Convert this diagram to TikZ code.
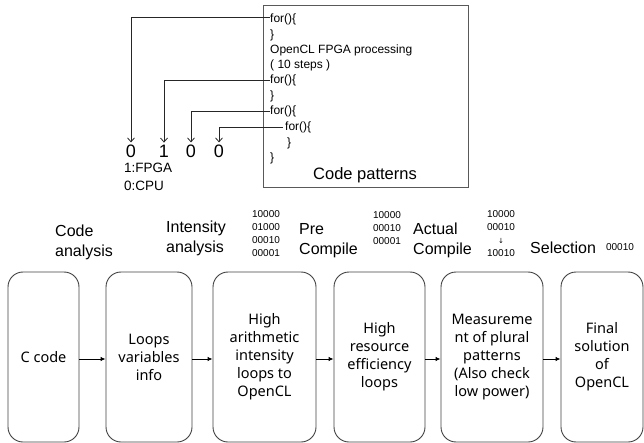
\documentclass[tikz,border=0pt]{standalone}
\usepackage{fontspec}
\setmainfont{Liberation Sans}
\newfontfamily\boxfont{Noto Sans}
\newfontfamily\symfont{DejaVu Sans}
\usetikzlibrary{arrows.meta}
\begin{document}
\begin{tikzpicture}[x=1pt,y=-1pt,
  flow/.style={draw=black!75, line width=0.9pt, rounded corners=15pt, inner sep=0pt,
    minimum height=170pt, align=center, font=\boxfont\fontsize{14.5}{18}\selectfont},
  conn/.style={draw=black, line width=0.9pt, -{Latex[length=5pt,width=4.5pt]}},
  ptr/.style={draw=black!85, line width=0.8pt, -{Straight Barb[length=4pt,width=7pt]}},
  code/.style={anchor=west, inner sep=0pt, font=\fontsize{12}{14}\selectfont},
  lbl/.style={anchor=west, inner sep=0pt, align=left, font=\fontsize{16}{20}\selectfont},
  bits/.style={inner sep=0pt, align=center, font=\fontsize{10}{13}\selectfont},
  digit/.style={inner sep=2pt, font=\fontsize{18}{20}\selectfont},
  note/.style={anchor=west, inner sep=0pt, font=\fontsize{13.5}{16}\selectfont},
]
\useasboundingbox (0,0) rectangle (644,443);

% Code patterns box
\node[draw=black!65, line width=0.9pt, minimum width=205pt, minimum height=182pt, inner sep=0pt] (cp) at (365.5,96) {};
\node[code] (l1) at (270,19) {for()\{};
\node[code] (l2) at (270,35) {\}};
\node[code] (l3) at (270,50) {OpenCL FPGA processing};
\node[code] (l4) at (270,65) {( 10 steps )};
\node[code] (l5) at (270,80) {for()\{};
\node[code] (l6) at (270,96) {\}};
\node[code] (l7) at (270,111) {for()\{};
\node[code] (l8) at (285,127) {for()\{};
\node[code] (l9) at (287,143) {\}};
\node[code] (l10) at (270,158) {\}};
\node[inner sep=0pt, font=\fontsize{16.5}{20}\selectfont] (cpt) at (365,175) {Code patterns};

% digits
\node[digit] (d1) at (131,151) {0};
\node[digit] (d2) at (164,151) {1};
\node[digit] (d3) at (191,151) {0};
\node[digit] (d4) at (219,151) {0};
\node[note] (n1) at (124,168) {1:FPGA};
\node[note] (n2) at (124,186) {0:CPU};

\draw[ptr] ([yshift=2pt]l1.west) -| (d1.north);
\draw[ptr] (l5.west) -| (d2.north);
\draw[ptr] (l7.west) -| (d3.north);
\draw[ptr] ([xshift=-2pt]l8.west) -| (d4.north);

% stage labels
\node[lbl] (s1) at (55,242) {Code\\analysis};
\node[lbl] (s2) at (166,238) {Intensity\\analysis};
\node[bits] (t1) at (266,234) {10000\\01000\\00010\\00001};
\node[lbl] (s3) at (299,241) {Pre\\Compile};
\node[bits] (t2) at (387,228) {10000\\00010\\00001};
\node[lbl] (s4) at (413,240) {Actual\\Compile};
\node[bits] (t3) at (501,234) {10000\\00010\\{\symfont\fontsize{7}{13}\selectfont ↓}\\10010};
\node[lbl] (s5) at (530,248) {Selection};
\node[bits] (t4) at (620,247) {00010};

% flow boxes
\node[flow, minimum width=71pt] (b1) at (43.5,357) {C code};
\node[flow, minimum width=86pt] (b2) at (149,357) {Loops\\variables\\info};
\node[flow, minimum width=103pt] (b3) at (264.5,357) {High\\arithmetic\\intensity\\loops to\\OpenCL};
\node[flow, minimum width=91pt] (b4) at (379.5,357) {High\\resource\\efficiency\\loops};
\node[flow, minimum width=102pt] (b5) at (492,357) {Measureme\\nt of plural\\patterns\\(Also check\\low power)};
\node[flow, minimum width=82pt] (b6) at (602,357) {Final\\solution\\of\\OpenCL};

\draw[conn] ([yshift=-2pt]b1.east) -- ([yshift=-2pt]b2.west);
\draw[conn] ([yshift=-2pt]b2.east) -- ([yshift=-2pt]b3.west);
\draw[conn] ([yshift=-2pt]b3.east) -- ([yshift=-2pt]b4.west);
\draw[conn] ([yshift=-2pt]b4.east) -- ([yshift=-2pt]b5.west);
\draw[conn] ([yshift=-2pt]b5.east) -- ([yshift=-2pt]b6.west);
\end{tikzpicture}
\end{document}
